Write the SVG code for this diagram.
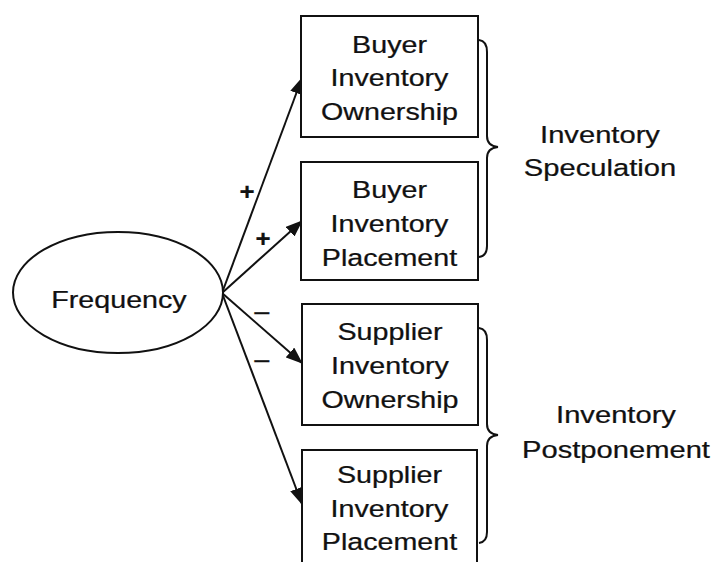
<svg xmlns="http://www.w3.org/2000/svg" width="718" height="562" viewBox="0 0 718 562">
  <style>
    .box { fill: #fff; stroke: #111; stroke-width: 2; }
    .oval { fill: #fff; stroke: #111; stroke-width: 2; }
    .edge { stroke: #111; stroke-width: 2; fill: none; }
    .brace { stroke: #111; stroke-width: 2; fill: none; }
    text { font-family: "Liberation Sans", Arial, sans-serif; font-size: 23.5px; fill: #111; text-anchor: middle; stroke: #111; stroke-width: 0.25; }
    .sign { font-weight: bold; }
  </style>
  <defs>
    <marker id="arrow" viewBox="0 0 17 13" refX="16" refY="6.5" markerWidth="17" markerHeight="13" markerUnits="userSpaceOnUse" orient="auto">
      <path d="M0,0 L17,6.5 L0,13 Z" fill="#111"/>
    </marker>
  </defs>

  <rect width="718" height="562" fill="#fff"/>

  <!-- connectors -->
  <g id="connectors">
    <line class="edge" x1="222" y1="293" x2="302" y2="78" marker-end="url(#arrow)"/>
    <line class="edge" x1="222" y1="293" x2="302" y2="221" marker-end="url(#arrow)"/>
    <line class="edge" x1="222" y1="293" x2="302" y2="363" marker-end="url(#arrow)"/>
    <line class="edge" x1="222" y1="293" x2="302" y2="504" marker-end="url(#arrow)"/>
    <g id="signs">
      <text class="sign" transform="matrix(1.1 0 0 1 247 199.5)">+</text>
      <text class="sign" transform="matrix(1.1 0 0 1 263 246.5)">+</text>
      <text transform="matrix(1.3 0 0 1 262 320.5)">−</text>
      <text transform="matrix(1.3 0 0 1 262 368.5)">−</text>
    </g>
  </g>

  <!-- latent construct -->
  <g id="frequency">
    <ellipse class="oval" cx="118" cy="292.5" rx="105" ry="60.5"/>
    <text transform="matrix(1.22 0 0 1 119 308)">Frequency</text>
  </g>

  <!-- indicator boxes -->
  <g id="buyer-ownership">
    <rect class="box" x="301" y="16" width="177" height="121"/>
    <text transform="matrix(1.22 0 0 1 389.5 0)"><tspan x="0" y="53">Buyer</tspan><tspan x="0" y="86.5">Inventory</tspan><tspan x="0" y="120">Ownership</tspan></text>
  </g>
  <g id="buyer-placement">
    <rect class="box" x="301" y="162" width="177" height="118"/>
    <text transform="matrix(1.22 0 0 1 389.5 0)"><tspan x="0" y="198">Buyer</tspan><tspan x="0" y="232">Inventory</tspan><tspan x="0" y="266">Placement</tspan></text>
  </g>
  <g id="supplier-ownership">
    <rect class="box" x="302" y="304" width="176" height="121"/>
    <text transform="matrix(1.22 0 0 1 390 0)"><tspan x="0" y="340">Supplier</tspan><tspan x="0" y="374">Inventory</tspan><tspan x="0" y="408">Ownership</tspan></text>
  </g>
  <g id="supplier-placement">
    <rect class="box" x="302" y="450" width="175" height="125"/>
    <text transform="matrix(1.22 0 0 1 389.5 0)"><tspan x="0" y="483">Supplier</tspan><tspan x="0" y="517">Inventory</tspan><tspan x="0" y="550">Placement</tspan></text>
  </g>

  <!-- grouping braces -->
  <g id="speculation">
    <path class="brace" d="M479,40 Q487,41 487,52 L487,136 Q487,146 498,147 Q487,148 487,158 L487,246 Q487,256 479,257"/>
    <text transform="matrix(1.24 0 0 1 600 0)"><tspan x="0" y="143">Inventory</tspan><tspan x="0" y="176">Speculation</tspan></text>
  </g>
  <g id="postponement">
    <path class="brace" d="M479,328 Q487,329 487,340 L487,424 Q487,434 498,435 Q487,436 487,446 L487,532 Q487,542 479,543"/>
    <text transform="matrix(1.24 0 0 1 616 0)"><tspan x="0" y="423">Inventory</tspan><tspan x="0" y="458">Postponement</tspan></text>
  </g>
</svg>
